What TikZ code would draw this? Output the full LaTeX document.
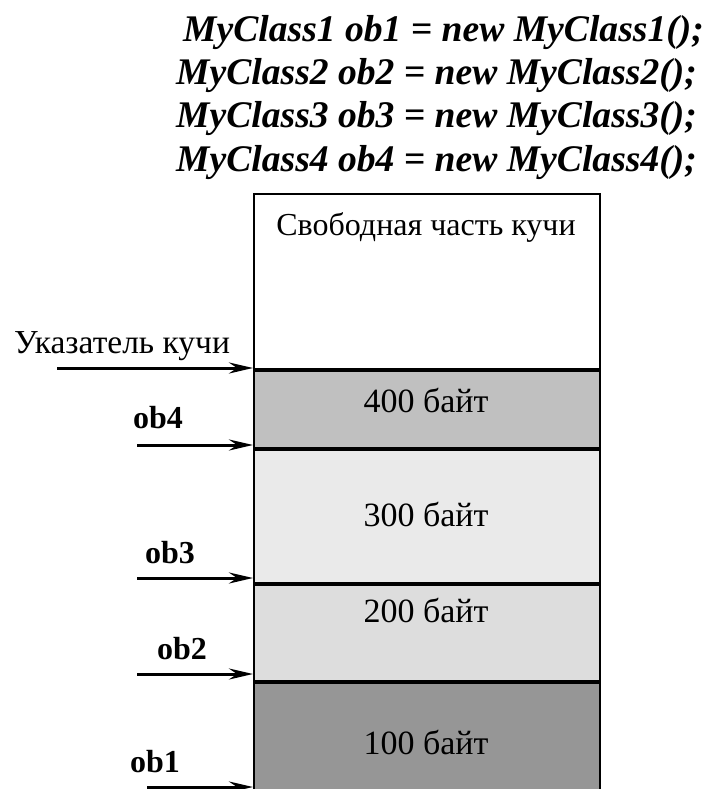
\documentclass[tikz,border=0pt]{standalone}
\usepackage{fontspec}
\setmainfont{Liberation Serif}
\usetikzlibrary{arrows.meta, positioning}
\definecolor{fill400}{HTML}{C0C0C0}
\definecolor{fill300}{HTML}{EAEAEA}
\definecolor{fill200}{HTML}{DDDDDD}
\definecolor{fill100}{HTML}{969696}

\begin{document}
\begin{tikzpicture}[x=1pt, y=-1pt, >={Stealth[length=24pt, width=11pt, inset=8pt]},
  block/.style={draw, line width=2pt, minimum width=346pt, inner sep=0pt, anchor=north west},
  txt/.style={font=\fontsize{32}{38}\selectfont, anchor=base, inner sep=0pt},
  size/.style={txt, font=\fontsize{34}{40}\selectfont},
  objname/.style={txt, font=\fontsize{32}{38}\selectfont\bfseries},
  code/.style={font=\fontsize{37.6}{43}\selectfont\bfseries\itshape, anchor=base west, inner sep=0pt},
  pointer/.style={->, line width=3pt}]
\useasboundingbox (0,0) rectangle (708,789);
%
\node[code] (line1) at (183,42) {MyClass1 ob1 = new MyClass1();};
\node[code] (line2) at (176,85) {MyClass2 ob2 = new MyClass2();};
\node[code] (line3) at (176,128) {MyClass3 ob3 = new MyClass3();};
\node[code] (line4) at (176,171) {MyClass4 ob4 = new MyClass4();};
%
\node[block, minimum height=175pt] (free) at (253,193) {};
\node[block, minimum height=77pt, fill=fill400] (b400) at (free.south west) {};
\node[block, minimum height=133pt, fill=fill300] (b300) at (b400.south west) {};
\node[block, minimum height=96pt, fill=fill200] (b200) at (b300.south west) {};
\node[block, minimum height=114pt, fill=fill100] (b100) at (b200.south west) {};
%
\node[txt] (freetxt) at (426,235) {Свободная часть кучи};
\node[size] (t400) at (426,412) {400 байт};
\node[size] (t300) at (426,526) {300 байт};
\node[size] (t200) at (426,622) {200 байт};
\node[size] (t100) at (426,754) {100 байт};
%
\node[txt, font=\fontsize{33.5}{40}\selectfont] (heaplabel) at (122,353) {Указатель кучи};
\node[objname] (ob4) at (158,428) {ob4};
\node[objname] (ob3) at (170,563) {ob3};
\node[objname] (ob2) at (182,659) {ob2};
\node[objname] (ob1) at (155,772) {ob1};
%
\coordinate (heapstart) at (57,368);
\coordinate (ob4start) at (137,445);
\coordinate (ob3start) at (137,578);
\coordinate (ob2start) at (137,674);
\coordinate (ob1start) at (147,787);
\draw[pointer] (heapstart) -- (heapstart -| free.west);
\draw[pointer] (ob4start) -- (ob4start -| b400.west);
\draw[pointer] (ob3start) -- (ob3start -| b300.west);
\draw[pointer] (ob2start) -- (ob2start -| b200.west);
\draw[pointer] (ob1start) -- (ob1start -| b100.west);
\end{tikzpicture}
\end{document}
